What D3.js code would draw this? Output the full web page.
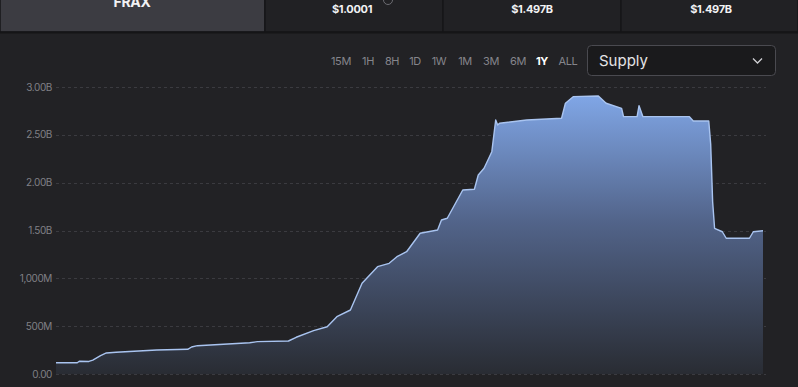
<!DOCTYPE html>
<html>
<head>
<meta charset="utf-8">
<script src="https://cdn.jsdelivr.net/npm/d3@7"></script>
<style>
	body { margin: 0; background: #222225; overflow: hidden; }
	svg { display: block; font-family: Inter, "Noto Sans", sans-serif; }
</style>
</head>
<body>
<svg id="chart" width="798" height="387"></svg>
<script>
{
	// header stats
	var headerCells = ["FRAX", "$1.0001", "$1.497B", "$1.497B"]
	var ranges = ["15M", "1H", "8H", "1D", "1W", "1M", "3M", "6M", "1Y", "ALL"]
	var activeRange = "1Y"

	// supply over the last year, day index -> millions
	var days = [0, 11, 12, 17, 19, 23, 26, 31, 52, 68, 70, 73, 100, 104, 120, 124, 133, 140, 145, 152,
		158, 166, 172, 176, 181, 188, 197, 199, 202, 210, 216, 218, 221, 225, 227, 228, 229, 243, 261, 263,
		267, 280, 284, 292, 293, 300, 301, 303, 327, 329, 337, 338, 339, 340, 344, 346, 358, 360, 365]
	var supply = [118, 118, 133, 131, 146, 193, 220, 227, 251, 258, 282, 296, 327, 338, 345, 384, 453, 494, 599, 669,
		948, 1122, 1157, 1226, 1278, 1471, 1505, 1610, 1628, 1923, 1931, 2080, 2150, 2324, 2655, 2603, 2621, 2655, 2673, 2830,
		2899, 2906, 2830, 2777, 2690, 2690, 2805, 2690, 2690, 2645, 2645, 2400, 1800, 1523, 1487, 1419, 1419, 1487, 1498]

	var yTicks = [0, 500, 1000, 1500, 2000, 2500, 3000]
	var yTickLabels = ["0.00", "500M", "1,000M", "1.50B", "2.00B", "2.50B", "3.00B"]

	var svg = d3.select("#chart")
	var svgWidth = +svg.attr("width")

	// ---- header row
	var cellEdges = [0, 265, 443, 621, 798]
	var header = svg.append("g")
	header.selectAll("rect")
		.data(headerCells)
		.join("rect")
		.attr("x", function(d, i) { return cellEdges[i] })
		.attr("y", -1)
		.attr("width", function(d, i) { return cellEdges[i + 1] - cellEdges[i] })
		.attr("height", 33)
		.attr("fill", function(d, i) { return i == 0 ? "#3c3c42" : "#212124" })
		.attr("stroke", "#161618")
		.attr("stroke-width", 1.5)

	header.selectAll("text")
		.data(headerCells)
		.join("text")
		.attr("x", function(d, i) { return i == 0 ? 132 : [0, 352, 532, 711][i] })
		.attr("y", function(d, i) { return i == 0 ? 7 : 13 })
		.attr("text-anchor", "middle")
		.attr("fill", "#f2f2f4")
		.attr("font-weight", 700)
		.style("font-size", function(d, i) { return i == 0 ? "14px" : "11px" })
		.style("letter-spacing", "-0.3px")
		.text(function(d) { return d })

	// little info icon next to the price
	header.append("circle")
		.attr("cx", 388).attr("cy", 0).attr("r", 4.5)
		.attr("fill", "none").attr("stroke", "#6c6c72").attr("stroke-width", 1)

	svg.append("line")
		.attr("x1", 0).attr("x2", svgWidth)
		.attr("y1", 32.5).attr("y2", 32.5)
		.attr("stroke", "#151517").attr("stroke-width", 2)

	// ---- range buttons
	var rangeX = [341, 368, 392, 415, 439, 465, 491, 518, 542, 568]
	svg.append("g")
		.selectAll("text")
		.data(ranges)
		.join("text")
		.attr("x", function(d, i) { return rangeX[i] })
		.attr("y", 65)
		.attr("text-anchor", "middle")
		.attr("fill", function(d) { return d == activeRange ? "#ffffff" : "#85858b" })
		.attr("font-weight", function(d) { return d == activeRange ? 700 : 400 })
		.style("font-size", "11px")
		.style("letter-spacing", "-0.4px")
		.text(function(d) { return d })

	// ---- dropdown
	var dd = svg.append("g")
	dd.append("rect")
		.attr("x", 587.5).attr("y", 45.5).attr("width", 188).attr("height", 30).attr("rx", 4)
		.attr("fill", "#1a1a1c").attr("stroke", "#4a4a50")
	dd.append("text")
		.attr("x", 599).attr("y", 66)
		.attr("fill", "#e4e4e6")
		.style("font-size", "15px")
		.text("Supply")
	dd.append("path")
		.attr("d", "M753,58.5 L757.5,63 L762,58.5")
		.attr("fill", "none").attr("stroke", "#d0d0d4").attr("stroke-width", 1.3)

	// ---- chart
	var x = d3.scaleLinear().domain([0, 365]).range([56, 763])
	var y = d3.scaleLinear().domain([0, 3000]).range([374, 87])
	var data = days.map(function(d, i) { return {day: d, value: supply[i]} })

	var grid = svg.append("g")
	grid.selectAll("line")
		.data(yTicks)
		.join("line")
		.attr("x1", 56).attr("x2", 766)
		.attr("y1", function(d) { return Math.round(y(d)) + 0.5 })
		.attr("y2", function(d) { return Math.round(y(d)) + 0.5 })
		.attr("stroke", "#3b3b40")
		.attr("stroke-dasharray", "3,3")

	grid.selectAll("text")
		.data(yTicks)
		.join("text")
		.attr("x", 52)
		.attr("y", function(d) { return y(d) })
		.attr("dy", "0.35em")
		.attr("text-anchor", "end")
		.attr("fill", "#808086")
		.style("font-size", "10px")
		.style("letter-spacing", "-0.4px")
		.text(function(d, i) { return yTickLabels[i] })

	var defs = svg.append("defs")
	var grad = defs.append("linearGradient")
		.attr("id", "supplyFill")
		.attr("gradientUnits", "userSpaceOnUse")
		.attr("x1", 0).attr("x2", 0)
		.attr("y1", y(2906)).attr("y2", y(0))
	grad.append("stop").attr("offset", 0).attr("stop-color", "#80a6e6")
	grad.append("stop").attr("offset", 0.45).attr("stop-color", "#52648a")
	grad.append("stop").attr("offset", 1).attr("stop-color", "#292c33")

	var area = d3.area()
		.x(function(d) { return x(d.day) })
		.y0(y(0))
		.y1(function(d) { return y(d.value) })

	var line = d3.line()
		.x(function(d) { return x(d.day) })
		.y(function(d) { return y(d.value) })

	svg.append("path")
		.datum(data)
		.attr("d", area)
		.attr("fill", "url(#supplyFill)")

	svg.append("path")
		.datum(data)
		.attr("d", line)
		.attr("fill", "none")
		.attr("stroke", "#a9c4f0")
		.attr("stroke-width", 1.4)
		.attr("stroke-linejoin", "round")
}
</script>
</body>
</html>
